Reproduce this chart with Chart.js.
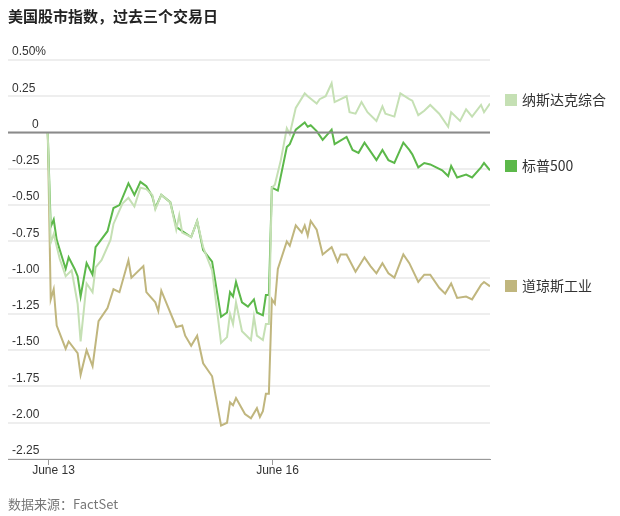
<!DOCTYPE html>
<html>
<head>
<meta charset="utf-8">
<script src="https://cdn.jsdelivr.net/npm/chart.js@4"></script>
<style>
  body { margin: 0; background: #fff; font-family: "Noto Sans CJK SC", "Noto Sans", sans-serif; }
  #wrap { position: relative; width: 620px; height: 516px; }
  #title { position: absolute; left: 8px; top: 5px; font-size: 15px; font-weight: bold; color: #222; }
  #source { position: absolute; left: 8px; top: 494px; font-size: 13px; color: #777; }
  #chart { position: absolute; left: 0; top: 0; }
</style>
</head>
<body>
<div id="wrap">
  <canvas id="chart" width="620" height="516"></canvas>
  <div id="title">美国股市指数，过去三个交易日</div>
  <div id="source">数据来源：FactSet</div>
</div>
<script>
const seriesNames = ['纳斯达克综合', '标普500', '道琼斯工业'];
const xTickLabels = ['June 13', 'June 16'];
const xTickPos = [0, 75];
const yTickLabels = ['0.50%', '0.25', '0', '-0.25', '-0.50', '-0.75', '-1.00', '-1.25', '-1.50', '-1.75', '-2.00', '-2.25'];

const nasdaqT = [0,1,2,4,6,8,10,11,13,15,16,18,21,22,25,27,29,31,33,35,36,38,41,43,44,45,48,50,52,55,58,60,61,62,63,65,68,69,70,72,73,74,75,76,78,80,81,83,86,87,90,91,93,95,96,100,101,103,105,107,110,112,113,116,118,121,122,124,126,128,131,134,135,138,140,142,145,146,148];
const nasdaqV = [0,-0.76,-0.70,-0.87,-0.99,-0.95,-1.18,-1.44,-1.04,-1.10,-0.93,-0.88,-0.74,-0.63,-0.49,-0.45,-0.51,-0.38,-0.39,-0.43,-0.53,-0.43,-0.48,-0.67,-0.57,-0.69,-0.72,-0.61,-0.79,-0.95,-1.45,-1.41,-1.25,-1.32,-1.17,-1.37,-1.43,-1.27,-1.40,-1.43,-1.32,-1.32,-0.38,-0.36,-0.19,0.03,-0.01,0.17,0.27,0.25,0.20,0.23,0.25,0.34,0.21,0.25,0.14,0.13,0.21,0.14,0.08,0.18,0.13,0.11,0.27,0.23,0.22,0.12,0.15,0.19,0.13,0.04,0.14,0.08,0.16,0.11,0.19,0.14,0.20];

const spT = [0,1,2,3,6,7,9,10,11,13,15,16,20,22,24,27,29,31,33,35,36,38,41,43,45,48,50,52,55,58,60,61,62,63,65,67,69,70,72,73,74,75,77,80,81,83,86,87,88,90,92,95,96,100,102,104,106,110,112,114,116,119,121,122,124,126,128,132,134,135,137,140,142,145,146,148];
const spV = [0,-0.65,-0.60,-0.74,-0.94,-0.86,-0.94,-0.99,-1.13,-0.90,-0.98,-0.79,-0.68,-0.52,-0.50,-0.35,-0.43,-0.34,-0.37,-0.44,-0.52,-0.43,-0.48,-0.65,-0.68,-0.72,-0.61,-0.81,-0.89,-1.27,-1.24,-1.10,-1.13,-1.03,-1.17,-1.20,-1.15,-1.24,-1.26,-1.12,-1.12,-0.38,-0.40,-0.10,-0.08,0.02,0.07,0.04,0.05,0.01,-0.05,0.02,-0.08,-0.03,-0.12,-0.14,-0.07,-0.19,-0.12,-0.19,-0.21,-0.07,-0.12,-0.15,-0.24,-0.21,-0.22,-0.26,-0.30,-0.23,-0.31,-0.29,-0.31,-0.24,-0.21,-0.26];

const dowT = [0,1,2,3,6,7,10,11,13,15,17,20,22,24,27,28,32,33,36,37,38,43,45,46,48,50,52,55,58,60,61,62,63,66,68,70,71,72,73,74,75,76,77,80,81,83,85,86,87,88,90,92,95,97,98,100,103,106,108,110,112,114,116,119,121,124,126,128,131,133,135,137,140,142,145,146,148];
const dowV = [0,-1.15,-1.08,-1.33,-1.49,-1.44,-1.52,-1.67,-1.50,-1.61,-1.30,-1.21,-1.08,-1.10,-0.88,-1.00,-0.92,-1.10,-1.17,-1.23,-1.09,-1.34,-1.33,-1.40,-1.47,-1.40,-1.59,-1.68,-2.02,-2.00,-1.86,-1.88,-1.83,-1.94,-1.97,-1.90,-1.96,-1.92,-1.80,-1.80,-1.15,-1.18,-0.94,-0.75,-0.78,-0.64,-0.69,-0.64,-0.71,-0.61,-0.67,-0.84,-0.79,-0.89,-0.84,-0.84,-0.96,-0.86,-0.92,-0.97,-0.90,-0.97,-1.00,-0.84,-0.90,-1.03,-0.98,-0.98,-1.07,-1.11,-1.04,-1.14,-1.13,-1.15,-1.05,-1.03,-1.06];

const colors = ['#c5e0b4', '#5cb84a', '#c0b67e'];
const legendY = [100, 166, 286];

function pts(t, v) { return t.map((x, i) => ({ x: x, y: v[i] })); }

const overlay = {
  id: 'overlay',
  afterDraw(chart) {
    const ctx = chart.ctx;
    const y = chart.scales.y, x = chart.scales.x, area = chart.chartArea;
    ctx.save();
    // y labels above gridlines
    ctx.font = '12px "Liberation Sans", Arial, sans-serif';
    ctx.fillStyle = '#333';
    ctx.textBaseline = 'bottom';
    yTickLabels.forEach((lab, i) => {
      const py = y.getPixelForValue(0.5 - i * 0.25);
      ctx.textAlign = 'left';
      ctx.fillText(lab, lab === '0' ? 32 : 12, py - 2);
    });
    // zero line
    const zy = y.getPixelForValue(0);
    ctx.strokeStyle = '#8a8a8a';
    ctx.lineWidth = 2;
    ctx.beginPath(); ctx.moveTo(area.left, zy); ctx.lineTo(area.right, zy); ctx.stroke();
    // x ticks
    ctx.strokeStyle = '#999';
    ctx.lineWidth = 1;
    ctx.textAlign = 'center';
    ctx.textBaseline = 'top';
    ctx.fillStyle = '#333';
    xTickPos.forEach((t, i) => {
      const px = Math.round(x.getPixelForValue(t)) + 0.5;
      ctx.beginPath(); ctx.moveTo(px, area.bottom); ctx.lineTo(px, area.bottom + 6); ctx.stroke();
      ctx.fillText(xTickLabels[i], px + 5, area.bottom + 6);
    });
    // legend
    ctx.font = '14px "Noto Sans CJK SC", sans-serif';
    ctx.textAlign = 'left';
    ctx.textBaseline = 'middle';
    seriesNames.forEach((n, i) => {
      ctx.fillStyle = colors[i];
      ctx.fillRect(505, legendY[i] - 6, 12, 12);
      ctx.fillStyle = '#333';
      ctx.fillText(n, 522, legendY[i]);
    });
    ctx.restore();
  }
};

new Chart(document.getElementById('chart'), {
  type: 'line',
  data: {
    datasets: [
      { label: seriesNames[0], data: pts(nasdaqT, nasdaqV), borderColor: colors[0] },
      { label: seriesNames[1], data: pts(spT, spV), borderColor: colors[1] },
      { label: seriesNames[2], data: pts(dowT, dowV), borderColor: colors[2] }
    ].map(d => Object.assign(d, { borderWidth: 2, pointRadius: 0, tension: 0, fill: false }))
  },
  options: {
    responsive: false,
    animation: false,
    events: [],
    layout: { padding: { left: 8, right: 130, top: 60, bottom: 49 } },
    plugins: { legend: { display: false }, tooltip: { enabled: false } },
    scales: {
      x: {
        type: 'linear', min: -13.3, max: 148,
        grid: { display: false },
        border: { color: '#999', width: 1 },
        ticks: { display: false }
      },
      y: {
        min: -2.25, max: 0.5,
        afterBuildTicks(s) { s.ticks = yTickLabels.map((l, i) => ({ value: 0.5 - i * 0.25 })); },
        grid: { color: '#eeeeee', lineWidth: 2, drawTicks: false },
        border: { display: false },
        ticks: { display: false }
      }
    }
  },
  plugins: [overlay]
});
</script>
</body>
</html>
